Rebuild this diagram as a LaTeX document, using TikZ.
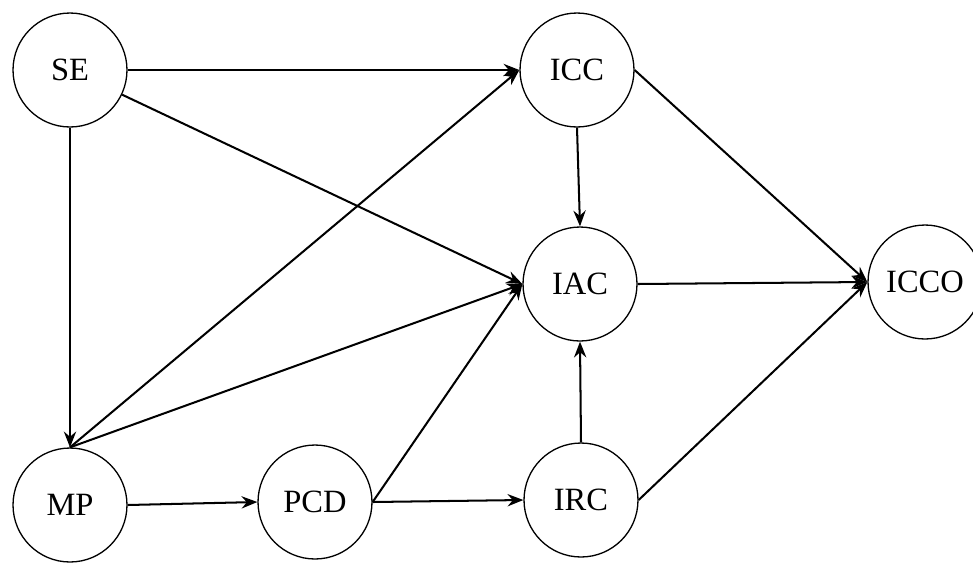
\documentclass[tikz,border=0pt]{standalone}
\usepackage{fontspec}
\setmainfont{Liberation Serif}
\usepackage{tikz}
\usetikzlibrary{positioning, arrows.meta}

\begin{document}
\begin{tikzpicture}[x=0.02cm, y=-0.02cm, ->, >={Stealth[length=9pt, width=7pt, inset=3pt]}, line width=1.15pt, statenode/.style={circle, draw, line width=0.75pt, minimum size=2.28cm, inner sep=0pt}, every node/.style={font=\fontsize{18.5}{22}\selectfont}]

  \useasboundingbox (0,0) rectangle (973,562);

  \node[statenode] (SE) at (70,70) {SE};
  \node[statenode] (ICC) at (577,70) {ICC};
  \node[statenode] (IAC) at (580,284) {IAC};
  \node[statenode] (ICCO) at (925,282) {ICCO};
  \node[statenode] (MP) at (70,505) {MP};
  \node[statenode] (PCD) at (315,502) {PCD};
  \node[statenode] (IRC) at (581,500) {IRC};

  \path
    (SE.east) edge (ICC.west)
    (SE) edge (IAC.west)
    (SE.south) edge (MP.north)
    (MP.north) edge (ICC.west)
    (MP.north) edge (IAC.west)
    (MP.east) edge (PCD.west)
    (PCD.east) edge (IAC.west)
    (PCD.east) edge (IRC.west)
    (ICC.south) edge (IAC.north)
    (ICC.east) edge (ICCO.west)
    (IAC.east) edge (ICCO.west)
    (IRC.north) edge (IAC.south)
    (IRC.east) edge (ICCO.west)
  ;
\end{tikzpicture}
\end{document}
